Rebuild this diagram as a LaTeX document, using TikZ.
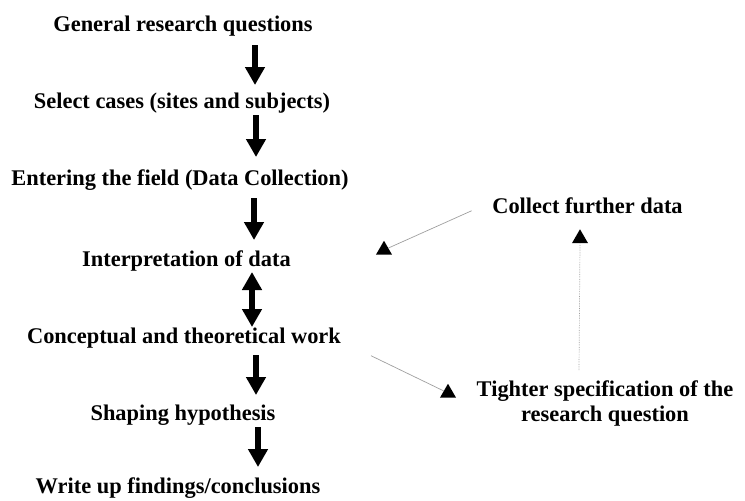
\documentclass[tikz,border=0pt]{standalone}
\usepackage{fontspec}
\setmainfont{Liberation Serif}
\usetikzlibrary{arrows.meta,shapes.geometric}

\begin{document}
\begin{tikzpicture}[x=1pt,y=-1pt,
  lbl/.style={font=\fontsize{22.4}{25}\selectfont\bfseries, inner sep=0pt,
              text height=0.7em, text depth=0.25em, anchor=base},
  lbltwo/.style={font=\fontsize{22.4}{25}\selectfont\bfseries, inner sep=0pt,
                 align=center, anchor=north},
  flow/.style={line width=6pt, -{Triangle[width=19pt,length=18pt]}},
  flowboth/.style={line width=6pt, {Triangle[width=19pt,length=18pt]}-{Triangle[width=19pt,length=18pt]}},
  link/.style={draw=gray!75, line width=0.7pt},
  tip/.style={regular polygon, regular polygon sides=3, fill=black,
              minimum size=18.5pt, inner sep=0pt}
]
\useasboundingbox (0,0) rectangle (745,501);

% main sequence of steps
\node[lbl] (g) at (183,31.5)  {General research questions};
\node[lbl] (s) at (182,108.5) {Select cases (sites and subjects)};
\node[lbl] (e) at (180,185.5) {Entering the field (Data Collection)};
\node[lbl] (i) at (186.5,266.5) {Interpretation of data};
\node[lbl] (c) at (184,343.5) {Conceptual and theoretical work};
\node[lbl] (h) at (183,420.5) {Shaping hypothesis};
\node[lbl] (w) at (178,493)   {Write up findings/conclusions};

% feedback loop
\node[lbl] (f) at (587.5,213) {Collect further data};
\node[lbltwo] (t) at (605,380.7) {Tighter specification of the\\research question};

% arrowheads of the loop
\node[tip] (t1) at (384,250) {};
\node[tip] (t2) at (448,393) {};
\node[tip] (t3) at (580,238.5) {};

% thick arrows between steps
\draw[flow] ([shift={(72,13.5)}]g.base) -- ([shift={(73,-23.5)}]s.base);
\draw[flow] ([shift={(74,6.5)}]s.base) -- ([shift={(76,-28.5)}]e.base);
\draw[flow] ([shift={(74,12.5)}]e.base) -- ([shift={(67.5,-26.5)}]i.base);
\draw[flowboth] ([shift={(65.5,5.5)}]i.base) -- ([shift={(68,-16.5)}]c.base);
\draw[flow] ([shift={(72,11.5)}]c.base) -- ([shift={(73,-25.5)}]h.base);
\draw[flow] ([shift={(75,6.5)}]h.base) -- ([shift={(80,-26)}]w.base);

% thin connectors of the loop
\draw[link] ([shift={(-20.5,0)}]f.west) -- (t1);
\draw[link] ([shift={(30,14.5)}]c.east) -- (t2);
\draw[link, densely dotted] ([shift={(-26,-10.7)}]t.north) -- (t3.south);
\end{tikzpicture}
\end{document}
